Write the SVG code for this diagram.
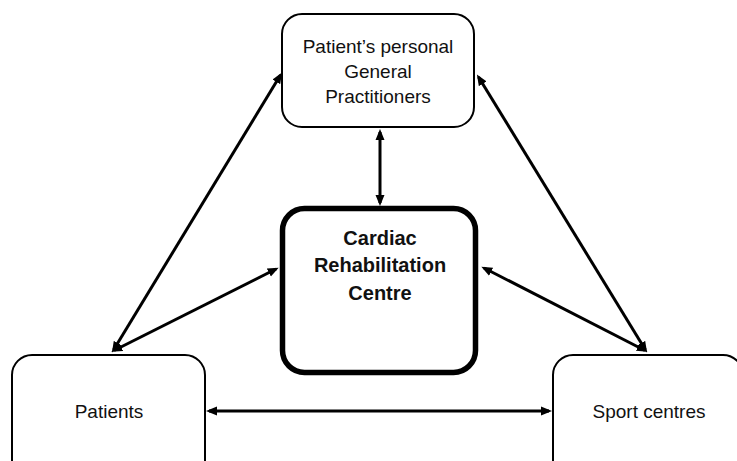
<svg xmlns="http://www.w3.org/2000/svg" width="737" height="461" viewBox="0 0 737 461">
<style>
.box{fill:#fff;stroke:#000;stroke-width:2}
.main{fill:#fff;stroke:#000;stroke-width:5.5}
.t{font-family:"Liberation Sans",Arial,sans-serif;font-size:19px;fill:#111;text-anchor:middle}
.tb{font-family:"Liberation Sans",Arial,sans-serif;font-size:20px;font-weight:bold;fill:#111;text-anchor:middle}
.c{stroke:#000;stroke-width:3;fill:none;marker-start:url(#ah);marker-end:url(#ah)}
</style>
<defs>
<marker id="ah" markerUnits="userSpaceOnUse" markerWidth="12" markerHeight="10" refX="8" refY="4.5" orient="auto-start-reverse" viewBox="0 0 12 9">
<path d="M0,0 L11,4.5 L0,9 z" fill="#000"/>
</marker>
</defs>
<rect width="737" height="461" fill="#fff"/>
<g id="connectors">
<line class="c" x1="113.5" y1="350" x2="280.5" y2="75"/>
<line class="c" x1="114" y1="350.5" x2="276" y2="269"/>
<line class="c" x1="645.5" y1="350" x2="478.5" y2="77"/>
<line class="c" x1="645" y1="350.5" x2="484" y2="268"/>
<line class="c" x1="380" y1="132" x2="380" y2="203"/>
<line class="c" x1="209" y1="411" x2="549" y2="411"/>
</g>
<g id="gp">
<rect class="box" x="282" y="14" width="192" height="113" rx="20"/>
<text class="t" x="378" y="53">Patient’s personal</text>
<text class="t" x="378" y="78">General</text>
<text class="t" x="378" y="103">Practitioners</text>
</g>
<g id="crc">
<rect class="main" x="282.5" y="208.5" width="193" height="164" rx="22"/>
<text class="tb" x="380" y="245">Cardiac</text>
<text class="tb" x="380" y="272">Rehabilitation</text>
<text class="tb" x="380" y="300">Centre</text>
</g>
<g id="patients">
<rect class="box" x="12" y="355" width="193" height="130" rx="20"/>
<text class="t" x="109" y="418">Patients</text>
</g>
<g id="sport">
<rect class="box" x="553" y="355" width="190" height="130" rx="20"/>
<text class="t" x="649" y="418">Sport centres</text>
</g>
</svg>
